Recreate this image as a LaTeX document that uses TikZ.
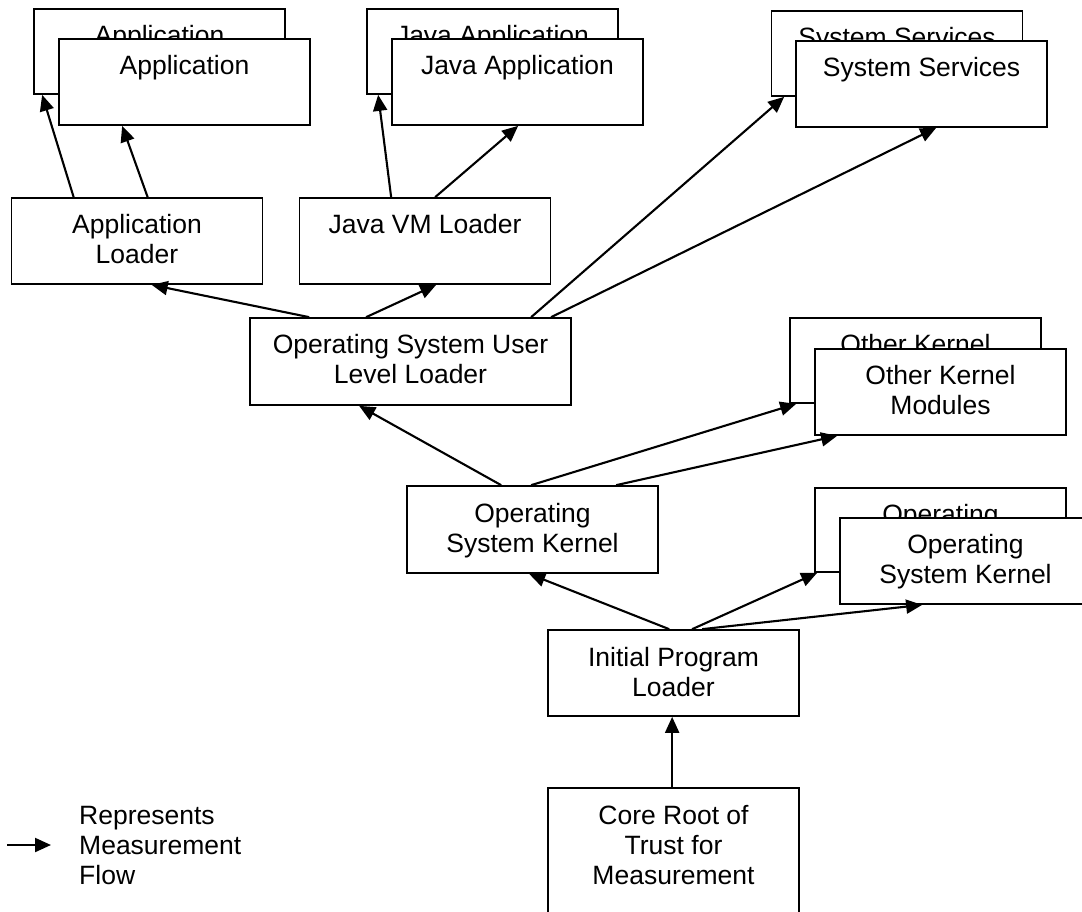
\documentclass[tikz,border=0pt]{standalone}
\usepackage{fontspec}
\setmainfont{Liberation Sans}
\usetikzlibrary{arrows.meta}
\begin{document}
\begin{tikzpicture}[x=1pt,y=-1pt,
  box/.style={draw, fill=white, line width=1.7pt, minimum width=251pt, inner sep=0pt},
  txt/.style={anchor=north, inner sep=0pt, align=center, font=\fontsize{26.5}{30}\selectfont},
  flow/.style={line width=2.1pt, -{Triangle[length=16pt,width=14pt]}}]
\useasboundingbox (0,0) rectangle (1082,911);
\clip (0,0) rectangle (1082,911);

% Applications (stacked)
\node[box, minimum height=85pt] (appB) at (159.5,51.5) {};
\node[txt] (appBT) at ([yshift=-17pt]appB.north) {Application};
\node[box, minimum height=86pt] (appF) at (184.5,82) {};
\node[txt] (appFT) at ([yshift=-17pt]appF.north) {Application};

% Java applications (stacked)
\node[box, minimum height=85pt] (javaB) at (492.5,51.5) {};
\node[txt] (javaBT) at ([yshift=-17pt]javaB.north) {Java Application};
\node[box, minimum height=86pt] (javaF) at (517.5,82) {};
\node[txt] (javaFT) at ([yshift=-17pt]javaF.north) {Java Application};

% System services (stacked)
\node[box, minimum height=85pt] (sysB) at (897,53.5) {};
\node[txt] (sysBT) at ([yshift=-17pt]sysB.north) {System Services};
\node[box, minimum height=86pt] (sysF) at (921.5,84) {};
\node[txt] (sysFT) at ([yshift=-17pt]sysF.north) {System Services};

% Loaders
\node[box, minimum height=86pt] (al) at (137,241) {};
\node[txt] (alT) at ([yshift=-17pt]al.north) {Application\\Loader};
\node[box, minimum height=86pt] (jvm) at (425,241) {};
\node[txt] (jvmT) at ([yshift=-17pt]jvm.north) {Java VM Loader};
\node[box, minimum width=321pt, minimum height=87pt] (ull) at (410.5,361.5) {};
\node[txt] (ullT) at ([yshift=-17pt]ull.north) {Operating System User\\Level Loader};

% Other kernel modules (stacked)
\node[box, minimum height=85pt] (okB) at (915.5,360.5) {};
\node[txt] (okBT) at ([yshift=-17pt]okB.north) {Other Kernel};
\node[box, minimum height=86pt] (okF) at (940.5,392) {};
\node[txt] (okFT) at ([yshift=-17pt]okF.north) {Other Kernel\\Modules};

% Kernel
\node[box, minimum height=87pt] (osk) at (532.5,529.5) {};
\node[txt] (oskT) at ([yshift=-18pt]osk.north) {Operating\\System Kernel};

% Alternative kernels (stacked)
\node[box, minimum height=84pt] (opB) at (940.5,530) {};
\node[txt] (opBT) at ([yshift=-17pt]opB.north) {Operating};
\node[box, minimum height=86pt] (opF) at (965.5,561) {};
\node[txt] (opFT) at ([yshift=-17pt]opF.north) {Operating\\System Kernel};

% Boot chain
\node[box, minimum height=86pt] (ipl) at (673.5,673) {};
\node[txt] (iplT) at ([yshift=-18pt]ipl.north) {Initial Program\\Loader};
\node[box, minimum height=130pt] (crtm) at (673.5,853) {};
\node[txt] (crtmT) at ([yshift=-18pt]crtm.north) {Core Root of\\Trust for\\Measurement};

% Measurement flow
\draw[flow] ([xshift=125pt]crtm.north west) -- ([xshift=125pt]ipl.south west);

\draw[flow] ([xshift=122pt]ipl.north west) -- ([xshift=123pt]osk.south west);
\draw[flow] ([xshift=145pt]ipl.north west) -- ([xshift=3pt]opB.south west);
\draw[flow] ([xshift=155pt]ipl.north west) -- ([xshift=83pt]opF.south west);

\draw[flow] ([xshift=95pt]osk.north west) -- ([xshift=110pt]ull.south west);
\draw[flow] ([xshift=125pt]osk.north west) -- ([xshift=7pt]okB.south west);
\draw[flow] ([xshift=210pt]osk.north west) -- ([xshift=23pt]okF.south west);

\draw[flow] ([xshift=60pt]ull.north west) -- ([xshift=141pt]al.south west);
\draw[flow] ([xshift=117pt]ull.north west) -- ([xshift=137.5pt]jvm.south west);
\draw[flow] ([xshift=282pt]ull.north west) -- ([xshift=13.5pt]sysB.south west);
\draw[flow] ([xshift=302pt]ull.north west) -- ([xshift=141pt]sysF.south west);

\draw[flow] ([xshift=63pt]al.north west) -- ([xshift=9pt]appB.south west);
\draw[flow] ([xshift=137pt]al.north west) -- ([xshift=64pt]appF.south west);

\draw[flow] ([xshift=92.5pt]jvm.north west) -- ([xshift=12pt]javaB.south west);
\draw[flow] ([xshift=136.5pt]jvm.north west) -- ([xshift=127pt]javaF.south west);

% Legend
\coordinate (legA) at (7,845);
\coordinate (legB) at (51,845);
\draw[flow] (legA) -- (legB);
\node[txt, anchor=north west, align=left] (legT) at (79,806) {Represents\\Measurement\\Flow};
\end{tikzpicture}
\end{document}
